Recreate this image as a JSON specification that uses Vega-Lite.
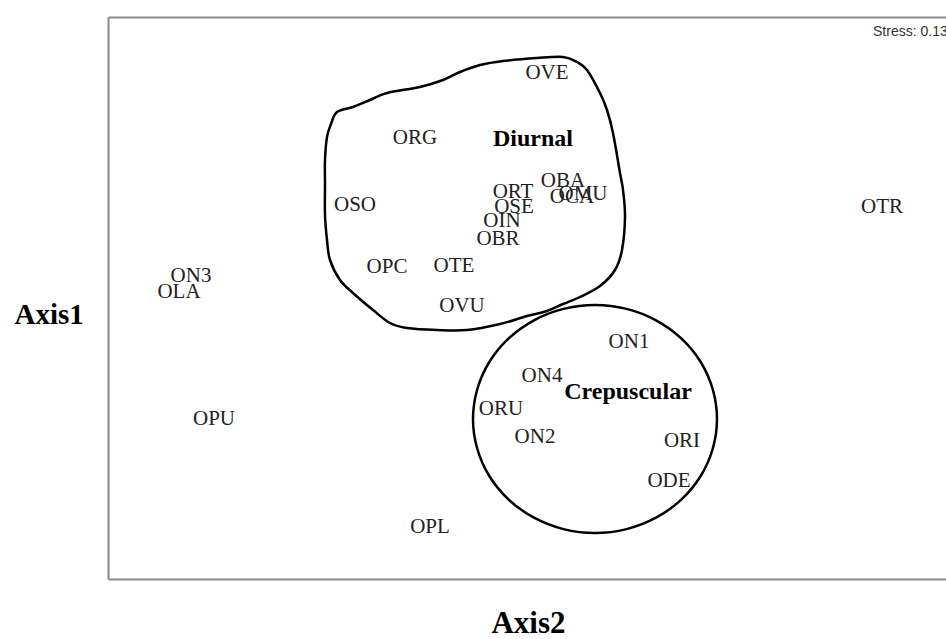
{
  "$schema": "https://vega.github.io/schema/vega-lite/v6.json",
  "width": 838,
  "height": 562,
  "autosize": {"type": "none"},
  "padding": {"left": 108, "top": 17, "right": 0, "bottom": 60},
  "background": "white",
  "config": {"view": {"stroke": null}},
  "datasets": {
    "outlines": [
      {"shape": "Diurnal", "order": 1, "x": 229, "y": 467},
      {"shape": "Diurnal", "order": 2, "x": 245, "y": 472},
      {"shape": "Diurnal", "order": 3, "x": 262, "y": 479},
      {"shape": "Diurnal", "order": 4, "x": 279, "y": 486},
      {"shape": "Diurnal", "order": 5, "x": 312, "y": 492},
      {"shape": "Diurnal", "order": 6, "x": 335, "y": 499},
      {"shape": "Diurnal", "order": 7, "x": 352, "y": 507},
      {"shape": "Diurnal", "order": 8, "x": 372, "y": 514},
      {"shape": "Diurnal", "order": 9, "x": 395, "y": 518},
      {"shape": "Diurnal", "order": 10, "x": 429, "y": 521},
      {"shape": "Diurnal", "order": 11, "x": 455, "y": 522},
      {"shape": "Diurnal", "order": 12, "x": 469, "y": 517},
      {"shape": "Diurnal", "order": 13, "x": 479, "y": 509},
      {"shape": "Diurnal", "order": 14, "x": 492, "y": 486},
      {"shape": "Diurnal", "order": 15, "x": 499, "y": 469},
      {"shape": "Diurnal", "order": 16, "x": 505, "y": 446},
      {"shape": "Diurnal", "order": 17, "x": 512, "y": 406},
      {"shape": "Diurnal", "order": 18, "x": 515, "y": 389},
      {"shape": "Diurnal", "order": 19, "x": 517, "y": 362},
      {"shape": "Diurnal", "order": 20, "x": 514, "y": 329},
      {"shape": "Diurnal", "order": 21, "x": 507, "y": 309},
      {"shape": "Diurnal", "order": 22, "x": 492, "y": 293},
      {"shape": "Diurnal", "order": 23, "x": 472, "y": 282},
      {"shape": "Diurnal", "order": 24, "x": 455, "y": 275},
      {"shape": "Diurnal", "order": 25, "x": 439, "y": 268},
      {"shape": "Diurnal", "order": 26, "x": 419, "y": 263},
      {"shape": "Diurnal", "order": 27, "x": 392, "y": 255},
      {"shape": "Diurnal", "order": 28, "x": 359, "y": 249},
      {"shape": "Diurnal", "order": 29, "x": 329, "y": 249},
      {"shape": "Diurnal", "order": 30, "x": 299, "y": 251},
      {"shape": "Diurnal", "order": 31, "x": 282, "y": 256},
      {"shape": "Diurnal", "order": 32, "x": 265, "y": 269},
      {"shape": "Diurnal", "order": 33, "x": 245, "y": 286},
      {"shape": "Diurnal", "order": 34, "x": 232, "y": 299},
      {"shape": "Diurnal", "order": 35, "x": 222, "y": 319},
      {"shape": "Diurnal", "order": 36, "x": 219, "y": 339},
      {"shape": "Diurnal", "order": 37, "x": 217, "y": 364},
      {"shape": "Diurnal", "order": 38, "x": 217, "y": 394},
      {"shape": "Diurnal", "order": 39, "x": 217, "y": 419},
      {"shape": "Diurnal", "order": 40, "x": 219, "y": 442},
      {"shape": "Diurnal", "order": 41, "x": 223, "y": 455},
      {"shape": "Crepuscular", "order": 1, "x": 609, "y": 160},
      {"shape": "Crepuscular", "order": 2, "x": 604.8, "y": 189.5},
      {"shape": "Crepuscular", "order": 3, "x": 592.7, "y": 217},
      {"shape": "Crepuscular", "order": 4, "x": 573.3, "y": 240.6},
      {"shape": "Crepuscular", "order": 5, "x": 548, "y": 258.7},
      {"shape": "Crepuscular", "order": 6, "x": 518.6, "y": 270.1},
      {"shape": "Crepuscular", "order": 7, "x": 487, "y": 274},
      {"shape": "Crepuscular", "order": 8, "x": 455.4, "y": 270.1},
      {"shape": "Crepuscular", "order": 9, "x": 426, "y": 258.7},
      {"shape": "Crepuscular", "order": 10, "x": 400.7, "y": 240.6},
      {"shape": "Crepuscular", "order": 11, "x": 381.3, "y": 217},
      {"shape": "Crepuscular", "order": 12, "x": 369.2, "y": 189.5},
      {"shape": "Crepuscular", "order": 13, "x": 365, "y": 160},
      {"shape": "Crepuscular", "order": 14, "x": 369.2, "y": 130.5},
      {"shape": "Crepuscular", "order": 15, "x": 381.3, "y": 103},
      {"shape": "Crepuscular", "order": 16, "x": 400.7, "y": 79.4},
      {"shape": "Crepuscular", "order": 17, "x": 426, "y": 61.3},
      {"shape": "Crepuscular", "order": 18, "x": 455.4, "y": 49.9},
      {"shape": "Crepuscular", "order": 19, "x": 487, "y": 46},
      {"shape": "Crepuscular", "order": 20, "x": 518.6, "y": 49.9},
      {"shape": "Crepuscular", "order": 21, "x": 548, "y": 61.3},
      {"shape": "Crepuscular", "order": 22, "x": 573.3, "y": 79.4},
      {"shape": "Crepuscular", "order": 23, "x": 592.7, "y": 103},
      {"shape": "Crepuscular", "order": 24, "x": 604.8, "y": 130.5}
    ],
    "species": [
      {"label": "OVE", "x": 439, "y": 500},
      {"label": "ORG", "x": 307, "y": 435},
      {"label": "OBA", "x": 455, "y": 392},
      {"label": "ORT", "x": 405, "y": 381},
      {"label": "OMU", "x": 475, "y": 379},
      {"label": "OCA", "x": 464, "y": 376},
      {"label": "OSE", "x": 406, "y": 366},
      {"label": "OIN", "x": 394, "y": 352},
      {"label": "OBR", "x": 390, "y": 334},
      {"label": "OTE", "x": 346, "y": 307},
      {"label": "OPC", "x": 279, "y": 306},
      {"label": "OVU", "x": 354, "y": 267},
      {"label": "OSO", "x": 247, "y": 368},
      {"label": "OTR", "x": 774, "y": 366},
      {"label": "ON3", "x": 83, "y": 297},
      {"label": "OLA", "x": 71, "y": 281},
      {"label": "OPU", "x": 106, "y": 154},
      {"label": "OPL", "x": 322, "y": 46},
      {"label": "ON1", "x": 521, "y": 231},
      {"label": "ON4", "x": 434, "y": 197},
      {"label": "ORU", "x": 393, "y": 164},
      {"label": "ON2", "x": 427, "y": 136},
      {"label": "ORI", "x": 574, "y": 132},
      {"label": "ODE", "x": 561, "y": 92}
    ],
    "groups": [
      {"label": "Diurnal", "x": 425, "y": 433},
      {"label": "Crepuscular", "x": 520, "y": 180}
    ],
    "notes": [
      {"label": "Stress: 0.13", "x": 765, "y": 543}
    ]
  },
  "layer": [
    {
      "data": {"name": "outlines"},
      "mark": {"type": "line", "interpolate": "cardinal-closed", "stroke": "black", "strokeWidth": 2.5},
      "encoding": {
        "x": {"field": "x", "type": "quantitative", "scale": {"domain": [0, 838], "nice": false, "zero": false},
          "axis": {"orient": "bottom", "domain": true, "domainColor": "#8a8a8a", "domainWidth": 2, "ticks": false, "labels": false, "grid": false,
            "title": "Axis2", "titleFont": "Liberation Serif", "titleFontSize": 31, "titleFontWeight": "bold", "titleColor": "black",
            "titleX": 420, "titleY": 53, "titleBaseline": "alphabetic", "titleAlign": "center"}},
        "y": {"field": "y", "type": "quantitative", "scale": {"domain": [0, 562], "nice": false, "zero": false},
          "axis": {"orient": "left", "domain": true, "domainColor": "#8a8a8a", "domainWidth": 2, "ticks": false, "labels": false, "grid": false,
            "title": "Axis1", "titleFont": "Liberation Serif", "titleFontSize": 29, "titleFontWeight": "bold", "titleColor": "black",
            "titleAngle": 0, "titleAlign": "left", "titleBaseline": "alphabetic", "titleX": -94, "titleY": 306}},
        "detail": {"field": "shape"},
        "order": {"field": "order", "type": "quantitative"}
      }
    },
    {
      "data": {"name": "species"},
      "mark": {"type": "text", "font": "Liberation Serif", "fontSize": 21, "color": "#222222", "align": "center", "baseline": "alphabetic"},
      "encoding": {
        "x": {"field": "x", "type": "quantitative",
          "axis": {"orient": "top", "domain": true, "domainColor": "#8a8a8a", "domainWidth": 2, "ticks": false, "labels": false, "grid": false, "title": null}},
        "y": {"field": "y", "type": "quantitative", "axis": null},
        "text": {"field": "label"}
      }
    },
    {
      "data": {"name": "groups"},
      "mark": {"type": "text", "font": "Liberation Serif", "fontSize": 24, "fontWeight": "bold", "color": "black", "align": "center", "baseline": "alphabetic"},
      "encoding": {
        "x": {"field": "x", "type": "quantitative", "axis": null},
        "y": {"field": "y", "type": "quantitative", "axis": null},
        "text": {"field": "label"}
      }
    },
    {
      "data": {"name": "notes"},
      "mark": {"type": "text", "font": "Liberation Sans", "fontSize": 14, "color": "#333333", "align": "left", "baseline": "alphabetic"},
      "encoding": {
        "x": {"field": "x", "type": "quantitative", "axis": null},
        "y": {"field": "y", "type": "quantitative", "axis": null},
        "text": {"field": "label"}
      }
    }
  ],
  "resolve": {"axis": {"x": "independent", "y": "independent"}}
}
